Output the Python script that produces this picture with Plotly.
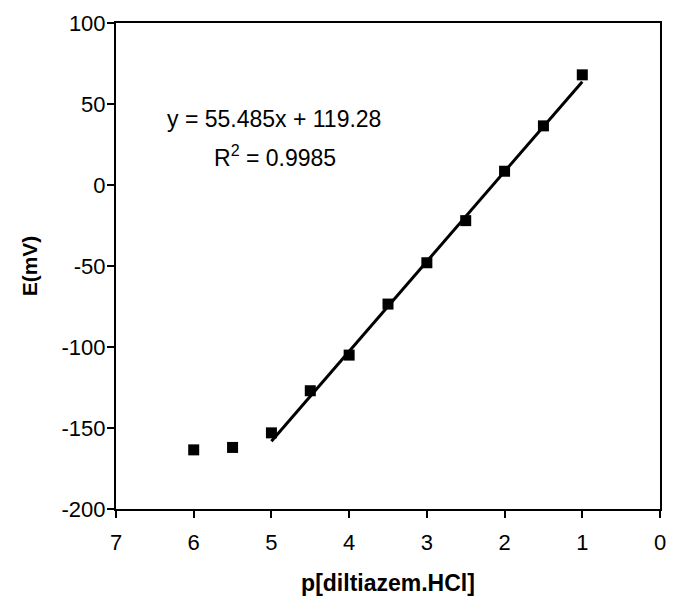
import plotly.graph_objects as go

# Data
p_conc = [6.0, 5.5, 5.0, 4.5, 4.0, 3.5, 3.0, 2.5, 2.0, 1.5, 1.0]
e_mv = [-163.5, -162.0, -153.0, -127.0, -105.0, -73.5, -48.0, -22.0, 8.5, 36.5, 68.0]

# Linear fit shown on chart (E = -slope * p + intercept), drawn over p = 5 .. 1
fit_slope = 55.485
fit_intercept = 119.28
fit_x = [5.0, 1.0]
fit_y = [-fit_slope * x + fit_intercept for x in fit_x]

x_ticks = [7, 6, 5, 4, 3, 2, 1, 0]
y_ticks = [-200, -150, -100, -50, 0, 50, 100]

font_family = "Liberation Sans, Arial, sans-serif"

fig = go.Figure()
fig.add_trace(go.Scatter(
    x=fit_x, y=fit_y, mode="lines",
    line=dict(color="black", width=3), showlegend=False, hoverinfo="skip"))
fig.add_trace(go.Scatter(
    x=p_conc, y=e_mv, mode="markers",
    marker=dict(symbol="square", size=11, color="black"),
    showlegend=False))

fig.add_annotation(x=4.97, y=40.5, xref="x", yref="y",
                   text="y = 55.485x + 119.28", showarrow=False,
                   font=dict(family=font_family, size=23, color="black"))
fig.add_annotation(x=4.95, y=18, xref="x", yref="y",
                   text="R<sup>2</sup> = 0.9985", showarrow=False,
                   font=dict(family=font_family, size=23, color="black"))

fig.update_layout(
    width=675, height=601,
    margin=dict(l=116, r=9, t=23, b=92),
    paper_bgcolor="white", plot_bgcolor="white",
    font=dict(family=font_family, size=22, color="black"),
    xaxis=dict(
        range=[7, 0], tickvals=x_ticks, ticktext=[str(v) for v in x_ticks],
        showgrid=False, zeroline=False,
        showline=True, linecolor="black", linewidth=2, mirror=True,
        ticks="outside", ticklen=7, tickwidth=1.5, tickcolor="black",
        ticklabelstandoff=6,
        title=dict(text="<b>p[diltiazem.HCl]</b>", standoff=20,
                   font=dict(family=font_family, size=23)),
        tickfont=dict(family=font_family, size=22),
    ),
    yaxis=dict(
        range=[-200, 100], tickvals=y_ticks, ticktext=[str(v) for v in y_ticks],
        showgrid=False, zeroline=False,
        showline=True, linecolor="black", linewidth=2, mirror=True,
        ticks="outside", ticklen=7, tickwidth=1.5, tickcolor="black",
        ticklabelstandoff=-3,
        title=dict(text="<b>E(mV)</b>", standoff=18,
                   font=dict(family=font_family, size=21)),
        tickfont=dict(family=font_family, size=22),
    ),
)

fig.write_html("out.html", config={"displayModeBar": False},
               post_script="document.body.style.margin='0';document.body.style.overflow='hidden';")
